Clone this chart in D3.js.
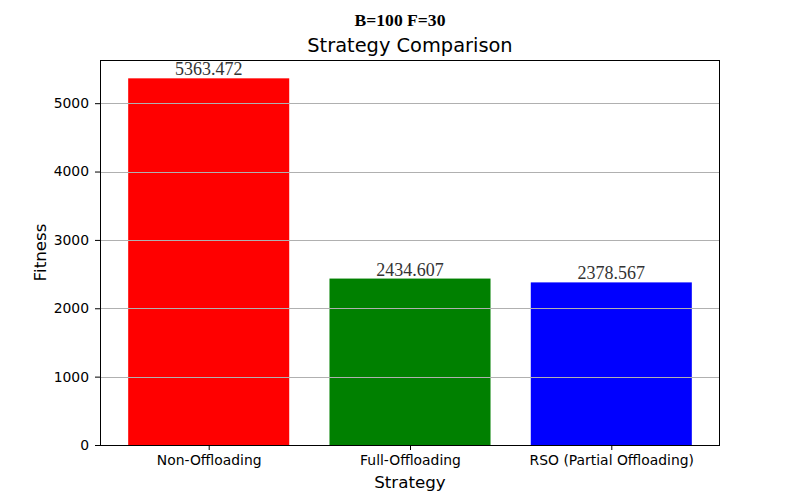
<!DOCTYPE html>
<html>
<head>
<meta charset="utf-8">
<script src="https://cdn.jsdelivr.net/npm/d3@7"></script>
<style>
  body { margin: 0; background: #fff; }
  svg { display: block; }
</style>
</head>
<body>
<svg id="chart" width="800" height="500"></svg>
<script>
// Chart data
const strategies = ["Non-Offloading", "Full-Offloading", "RSO (Partial Offloading)"];
const fitness = [5363.472, 2434.607, 2378.567];
const barColors = ["red", "green", "blue"];
const yTicks = [0, 1000, 2000, 3000, 4000, 5000];

const svg = d3.select("#chart");
const margin = { left: 100, right: 80, top: 60, bottom: 55 };
const width = 800, height = 500;
const plotL = margin.left, plotR = width - margin.right;
const plotT = margin.top, plotB = height - margin.bottom;

// matplotlib-like scales (bar width 0.8, 5% margins)
const barW = 0.8;
const xs = d3.scaleLinear()
  .domain([-0.54, strategies.length - 1 + 0.54])
  .range([plotL, plotR]);
const ys = d3.scaleLinear()
  .domain([0, d3.max(fitness) * 1.05])
  .range([plotB, plotT]);

const data = strategies.map((s, i) => ({ name: s, value: fitness[i], color: barColors[i], i }));

// Bars
svg.append("g").selectAll("rect")
  .data(data)
  .enter()
  .append("rect")
  .attr("x", d => xs(d.i - barW / 2))
  .attr("width", d => xs(d.i + barW / 2) - xs(d.i - barW / 2))
  .attr("y", d => ys(d.value))
  .attr("height", d => ys(0) - ys(d.value))
  .attr("fill", d => d.color);

// Grid lines (drawn on top of bars)
svg.append("g").selectAll("line")
  .data(yTicks)
  .enter()
  .append("line")
  .attr("x1", plotL)
  .attr("x2", plotR)
  .attr("y1", d => Math.round(ys(d)) + 0.5)
  .attr("y2", d => Math.round(ys(d)) + 0.5)
  .attr("stroke", "#b0b0b0")
  .attr("stroke-width", 1);

// Value labels
svg.append("g").selectAll("text")
  .data(data)
  .enter()
  .append("text")
  .attr("x", d => xs(d.i))
  .attr("y", d => ys(d.value) - 3)
  .attr("text-anchor", "middle")
  .attr("font-family", "Liberation Serif, Times New Roman, serif")
  .attr("font-size", "18px")
  .attr("fill", "#333")
  .text(d => d.value.toFixed(3));

// Y axis
const yAxis = svg.append("g")
  .attr("transform", `translate(${plotL},0)`)
  .call(d3.axisLeft(ys).tickValues(yTicks).tickSize(5).tickPadding(6).tickFormat(d3.format("d")));
yAxis.select(".domain").remove();
yAxis.selectAll("text")
  .attr("font-family", "DejaVu Sans, sans-serif")
  .attr("font-size", "13.9px")
  .attr("fill", "#000");

// X axis
const xAxis = svg.append("g")
  .attr("transform", `translate(0,${plotB})`)
  .call(d3.axisBottom(xs).tickValues(d3.range(strategies.length)).tickSize(5).tickPadding(5)
    .tickFormat(i => strategies[i]));
xAxis.select(".domain").remove();
xAxis.selectAll("text")
  .attr("font-family", "DejaVu Sans, sans-serif")
  .attr("font-size", "13.9px")
  .attr("fill", "#000");

// Frame
svg.append("rect")
  .attr("x", plotL + 0.5)
  .attr("y", plotT + 0.5)
  .attr("width", plotR - plotL - 1)
  .attr("height", plotB - plotT)
  .attr("fill", "none")
  .attr("stroke", "#000")
  .attr("stroke-width", 1);

// Titles
svg.append("text")
  .attr("x", width / 2)
  .attr("y", 25.5)
  .attr("text-anchor", "middle")
  .attr("font-family", "Liberation Serif, Times New Roman, serif")
  .attr("font-weight", "bold")
  .attr("font-size", "17.6px")
  .text("B=100 F=30");

svg.append("text")
  .attr("x", (plotL + plotR) / 2)
  .attr("y", 52)
  .attr("text-anchor", "middle")
  .attr("font-family", "DejaVu Sans, sans-serif")
  .attr("font-size", "19.4px")
  .text("Strategy Comparison");

svg.append("text")
  .attr("x", (plotL + plotR) / 2)
  .attr("y", 488)
  .attr("text-anchor", "middle")
  .attr("font-family", "DejaVu Sans, sans-serif")
  .attr("font-size", "16.7px")
  .text("Strategy");

svg.append("text")
  .attr("transform", `translate(46,${(plotT + plotB) / 2}) rotate(-90)`)
  .attr("text-anchor", "middle")
  .attr("font-family", "DejaVu Sans, sans-serif")
  .attr("font-size", "16.7px")
  .text("Fitness");
</script>
</body>
</html>
